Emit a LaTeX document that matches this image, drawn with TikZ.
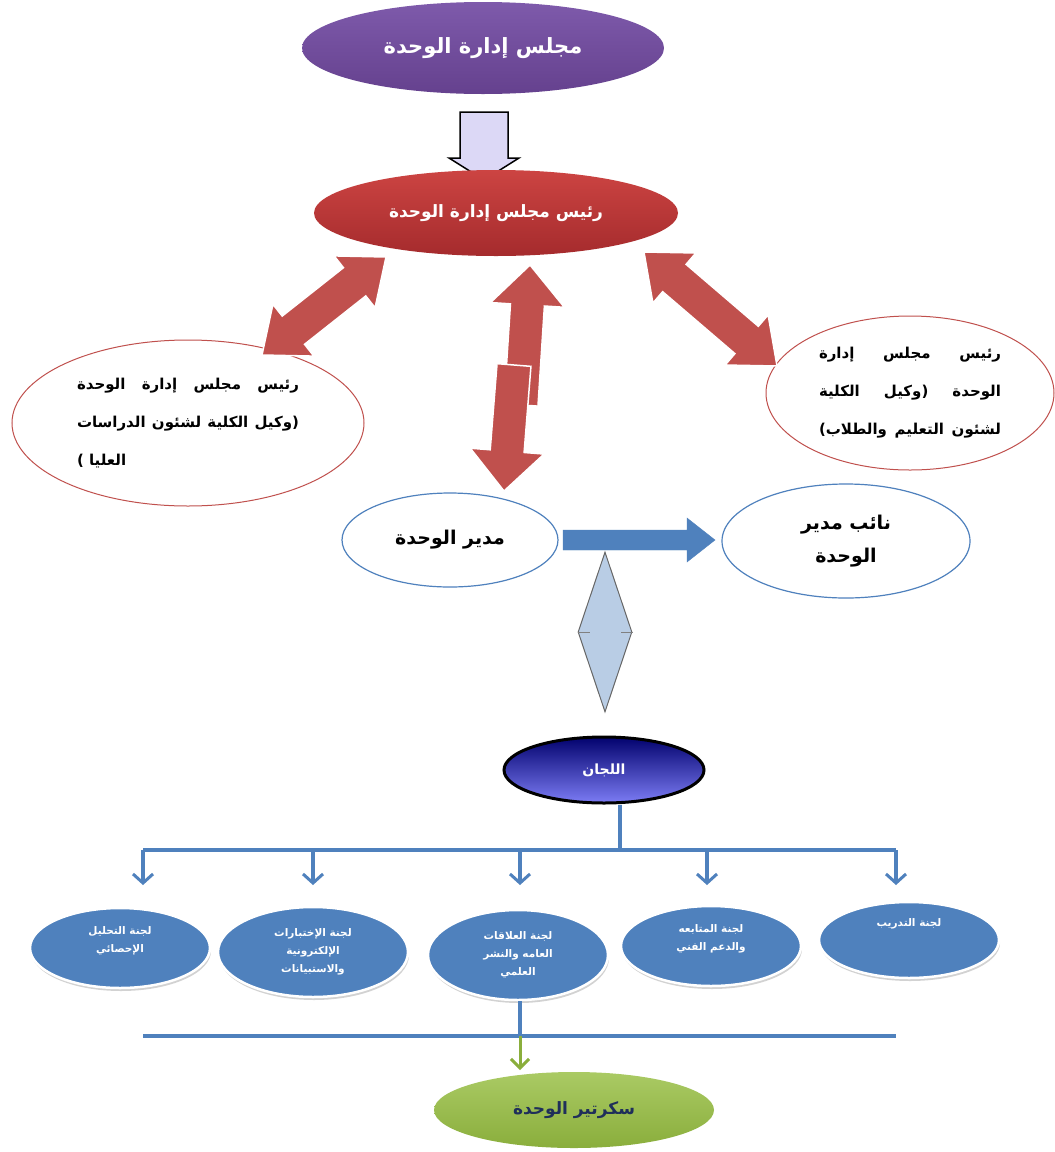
\documentclass[tikz,border=0pt]{standalone}
\usepackage{fontspec}
\newfontfamily\arabicfont[Script=Arabic]{DejaVu Sans}
\TeXXeTstate=1
\usepackage{tikz}
\usetikzlibrary{calc,positioning,shapes.geometric,arrows.meta,shadows}
\definecolor{purpletop}{HTML}{7E5AAB}
\definecolor{purplebot}{HTML}{65418E}
\definecolor{redtop}{HTML}{CC4442}
\definecolor{redbot}{HTML}{A52B2D}
\definecolor{arrowred}{HTML}{C0504D}
\definecolor{unitblue}{HTML}{4F81BD}
\definecolor{diamondblue}{HTML}{B9CDE5}
\definecolor{lavender}{HTML}{DCD8F6}
\definecolor{navytop}{HTML}{02026E}
\definecolor{navybot}{HTML}{7C7CF4}
\definecolor{greentop}{HTML}{AACA64}
\definecolor{greenbot}{HTML}{8AAE3C}
\definecolor{darknavy}{HTML}{1F2F5A}
\tikzset{
    unit/.style={
        ellipse,
        inner sep=0pt,
        align=center,
        font=\arabicfont\bfseries
    },
    headunit/.style={
        unit,
        text=white
    },
    deputy/.style={
        unit,
        draw=arrowred,
        line width=1pt,
        fill=white,
        align=left,
        font=\arabicfont\bfseries\fontsize{15}{38}\selectfont
    },
    manager/.style={
        unit,
        draw=unitblue,
        line width=1.2pt,
        fill=white
    },
    committee/.style={
        unit,
        fill=unitblue,
        draw=white,
        line width=2.5pt,
        text=white,
        minimum width=180pt,
        drop shadow={opacity=0.35,shadow xshift=1pt,shadow yshift=-3pt},
        font=\arabicfont\bfseries\fontsize{10.5}{18}\selectfont
    },
    redarrow/.style={fill=arrowred,draw=white,line width=1.5pt},
    comline/.style={draw=unitblue,line width=3.5pt},
    comarrow/.style={comline,-{Straight Barb[length=9pt,width=20pt,line width=3pt]}}
}
% block arrows: #1 tail/tip, #2 tip, #3 half shaft, #4 half head, #5 head length, #6 style
\newcommand{\blkarrow}[6]{%
    \path ($(#2)!#5!(#1)$) coordinate (ha);
    \filldraw[#6] ($(#1)!#3!90:(#2)$) -- ($(ha)!#3!90:(#2)$) -- ($(ha)!#4!90:(#2)$)
        -- (#2) -- ($(ha)!#4!-90:(#2)$) -- ($(ha)!#3!-90:(#2)$) -- ($(#1)!#3!-90:(#2)$) -- cycle;
}
\newcommand{\dblarrow}[6]{%
    \path ($(#1)!#5!(#2)$) coordinate (ha) ($(#2)!#5!(#1)$) coordinate (hb);
    \filldraw[#6] (#1) -- ($(ha)!#4!90:(#1)$) -- ($(ha)!#3!90:(#1)$) -- ($(hb)!#3!-90:(#2)$)
        -- ($(hb)!#4!-90:(#2)$) -- (#2) -- ($(hb)!#4!90:(#2)$) -- ($(hb)!#3!90:(#2)$)
        -- ($(ha)!#3!-90:(#1)$) -- ($(ha)!#4!-90:(#1)$) -- cycle;
}

\begin{document}
\begin{tikzpicture}[x=1pt,y=-1pt]
    \useasboundingbox[fill=white] (0,0) rectangle (1055,1152);

    % board
    \node[headunit, minimum width=362pt, minimum height=92pt,
          top color=purpletop, bottom color=purplebot,
          font=\arabicfont\bfseries\fontsize{21}{24}\selectfont] (board) at (483,48)
          {\beginR مجلس إدارة الوحدة\endR};

    \coordinate (bt) at (484,112);
    \coordinate (bh) at (484,180);
    \blkarrow{bt}{bh}{24pt}{35pt}{22pt}{fill=lavender,draw=black,line width=1.5pt}

    % chairman
    \node[headunit, minimum width=364pt, minimum height=86pt,
          top color=redtop, bottom color=redbot,
          font=\arabicfont\bfseries\fontsize{17}{20}\selectfont] (chair) at (496,213)
          {\beginR رئيس مجلس إدارة الوحدة\endR};

    \node[deputy, minimum width=352pt, minimum height=166pt] (vpL) at (188,423)
          {\makebox[222pt][s]{\beginR رئيس مجلس إدارة الوحدة\endR}\\
           \makebox[222pt][s]{\beginR (وكيل الكلية لشئون الدراسات\endR}\\
           \beginR العليا )\endR};
    \node[deputy, minimum width=288pt, minimum height=154pt] (vpR) at (910,393)
          {\makebox[182pt][s]{\beginR رئيس مجلس إدارة\endR}\\
           \makebox[182pt][s]{\beginR الوحدة (وكيل الكلية\endR}\\
           \makebox[182pt][s]{\beginR لشئون التعليم والطلاب)\endR}};

    \node[manager, minimum width=216pt, minimum height=94pt,
          font=\arabicfont\bfseries\fontsize{19}{22}\selectfont] (mgr) at (450,540)
          {\beginR مدير الوحدة\endR};
    \node[manager, minimum width=248pt, minimum height=114pt,
          font=\arabicfont\bfseries\fontsize{19}{33}\selectfont] (dep) at (846,541)
          {\beginR نائب مدير\endR\\ \beginR الوحدة\endR};

    % red arrows
    \coordinate (l1) at (386,257);
    \coordinate (l2) at (262,355);
    \dblarrow{l1}{l2}{18pt}{33pt}{40pt}{redarrow}
    \coordinate (r1) at (644,252);
    \coordinate (r2) at (777,366);
    \dblarrow{r1}{r2}{18pt}{33pt}{40pt}{redarrow}
    \coordinate (m1) at (521,405);
    \coordinate (m2) at (530,265);
    \blkarrow{m1}{m2}{17pt}{37pt}{40pt}{redarrow}
    \coordinate (m3) at (514,365);
    \coordinate (m4) at (504,491);
    \blkarrow{m3}{m4}{17pt}{37pt}{40pt}{redarrow}

    \coordinate (ma) at (563,540);
    \coordinate (mb) at (715,540);
    \blkarrow{ma}{mb}{10pt}{22pt}{28pt}{fill=unitblue,draw=unitblue}

    % link to committees
    \node[diamond, draw=black!60, fill=diamondblue, line width=1pt, inner sep=0pt,
          minimum width=54pt, minimum height=160pt] (link) at (605,632) {};
    \draw[black!50, line width=1pt] (link.west) -- ++(12,0) (link.east) -- ++(-12,0);

    \node[headunit, minimum width=200pt, minimum height=66pt,
          top color=navytop, bottom color=navybot, draw=black, line width=3pt,
          font=\arabicfont\bfseries\fontsize{14}{16}\selectfont] (lajan) at (604,770)
          {\beginR اللجان\endR};

    % committees
    \node[committee, minimum height=80pt] (c1) at (120,948)
          {\beginR لجنة التحليل\endR\\ \beginR الإحصائي\endR\\ \mbox{}};
    \node[committee, minimum width=190pt, minimum height=90pt] (c2) at (313,952)
          {\beginR لجنة الإختبارات\endR\\ \beginR الإلكترونية\endR\\ \beginR والاستبيانات\endR};
    \node[committee, minimum height=90pt] (c3) at (518,955)
          {\beginR لجنة العلاقات\endR\\ \beginR العامه والنشر\endR\\ \beginR العلمي\endR};
    \node[committee, minimum height=80pt] (c4) at (711,946)
          {\beginR لجنة المتابعه\endR\\ \beginR والدعم الفني\endR\\ \mbox{}};
    \node[committee, minimum height=76pt] (c5) at (909,940)
          {\beginR لجنة التدريب\endR\\ \mbox{}\\ \mbox{}};

    \coordinate (bus) at (620,850);
    \draw[comline] (lajan.south -| bus) -- (bus);
    \draw[comline] (143,850) -- (896,850);
    \foreach \x/\c in {143/c1,313/c2,520/c3,707/c4,896/c5}
      \draw[comarrow] (\x,850) -- (\x,885);

    % secretary
    \node[unit, minimum width=280pt, minimum height=76pt,
          top color=greentop, bottom color=greenbot, text=darknavy,
          font=\arabicfont\bfseries\fontsize{17}{20}\selectfont] (sec) at (574,1110)
          {\beginR سكرتير الوحدة\endR};

    \draw[comline] (143,1036) -- (896,1036);
    \coordinate (sbus) at (520,1036);
    \draw[comline] (c3.south -| sbus) -- (sbus);
    \draw[greenbot, line width=3pt, -{Straight Barb[length=9pt,width=18pt,line width=3pt]}]
          (sbus) -- (520,1070);
\end{tikzpicture}
\end{document}
